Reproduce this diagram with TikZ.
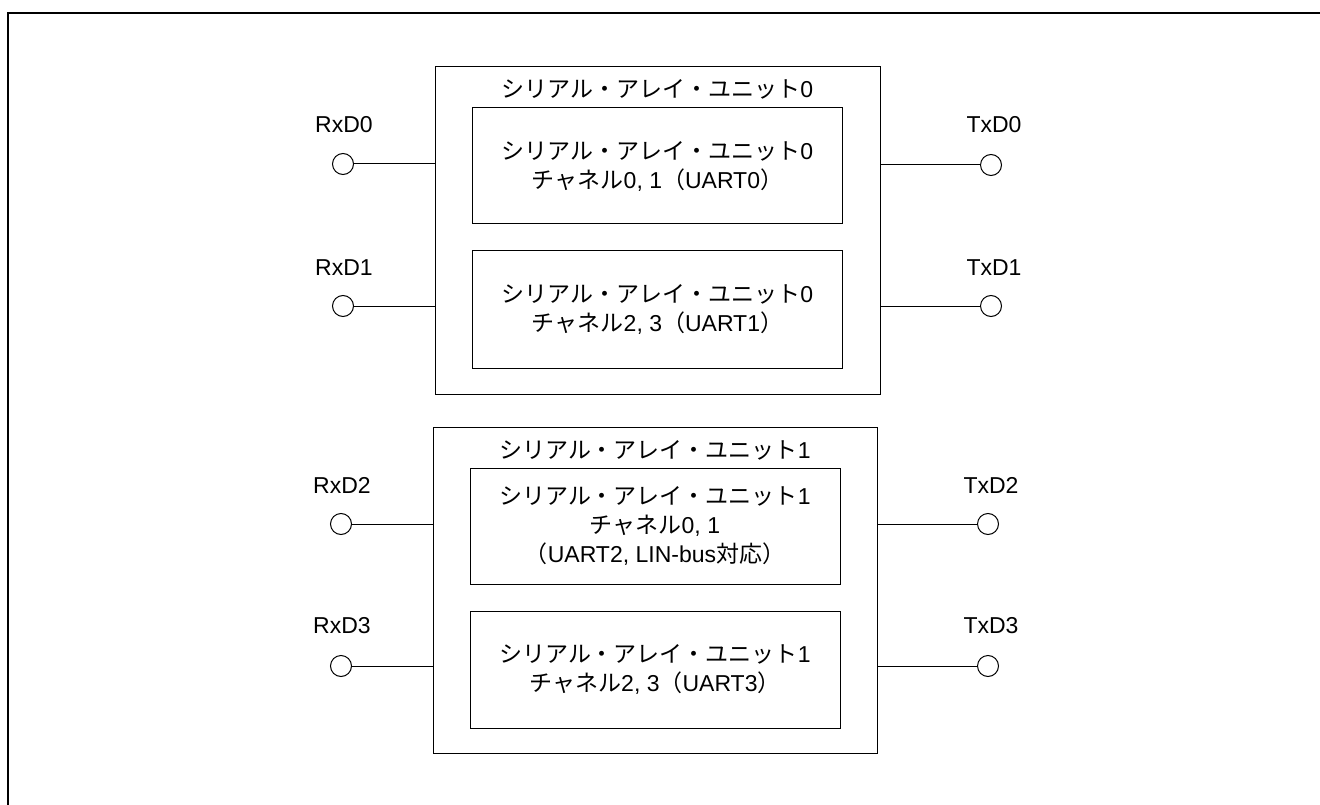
\documentclass[tikz,border=0pt]{standalone}
\usepackage{fontspec}
\setmainfont{Liberation Sans}
\newfontfamily\jpfont{Noto Sans CJK JP}
\newcommand{\JP}[1]{{\jpfont #1}}
\begin{document}
\begin{tikzpicture}[x=1pt,y=-1pt,
  every node/.style={font=\fontsize{23}{29}\selectfont, inner sep=0pt, outer sep=0pt},
  unitbox/.style={draw, line width=1pt, anchor=north west},
  chbox/.style={draw, line width=1pt, align=center, minimum width=370pt},
  pin/.style={draw, circle, line width=1pt, minimum size=21pt, fill=white},
  wire/.style={line width=1pt},
  frame/.style={line width=1.6pt}
]
\useasboundingbox (0,0) rectangle (1320,805);
% outer frame (top and left edges)
\coordinate (fbl) at (8,806);
\coordinate (ftl) at (8,13);
\coordinate (ftr) at (1321,13);
\draw[frame] (fbl) -- (ftl) -- (ftr);

% unit 0
\node[unitbox, minimum width=445pt, minimum height=327pt] (u0) at (435,67) {};
\node (u0t) at (657.5,89) {\JP{シリアル・アレイ・ユニット}0};
\node[chbox, minimum height=116pt] (c0) at (657.5,166) {\JP{シリアル・アレイ・ユニット}0\\\JP{チャネル}0, 1\JP{（}UART0\JP{）}};
\node[chbox, minimum height=117pt] (c1) at (657.5,309.5) {\JP{シリアル・アレイ・ユニット}0\\\JP{チャネル}2, 3\JP{（}UART1\JP{）}};

% unit 1
\node[unitbox, minimum width=444pt, minimum height=326pt] (u1) at (433,427) {};
\node (u1t) at (655,450) {\JP{シリアル・アレイ・ユニット}1};
\node[chbox, minimum height=116pt] (c2) at (655,526) {\JP{シリアル・アレイ・ユニット}1\\\JP{チャネル}0, 1\\\JP{（}UART2, LIN-bus\JP{対応）}};
\node[chbox, minimum height=117pt] (c3) at (655,669.5) {\JP{シリアル・アレイ・ユニット}1\\\JP{チャネル}2, 3\JP{（}UART3\JP{）}};

% pins left
\node[pin] (r0) at (343,164) {};
\node[pin] (r1) at (343,306) {};
\node[pin] (r2) at (341,524) {};
\node[pin] (r3) at (341,666) {};
% pins right
\node[pin] (t0) at (991,165) {};
\node[pin] (t1) at (991,306) {};
\node[pin] (t2) at (988,524) {};
\node[pin] (t3) at (988,666) {};

% labels
\node (lr0) at (344,125) {RxD0};
\node (lr1) at (344,268) {RxD1};
\node (lr2) at (342,485) {RxD2};
\node (lr3) at (342,626) {RxD3};
\node (lt0) at (994,125) {TxD0};
\node (lt1) at (994,268) {TxD1};
\node (lt2) at (991,485) {TxD2};
\node (lt3) at (991,626) {TxD3};

% wires
\draw[wire] (r0.east) -- (r0.east -| u0.west);
\draw[wire] (r1.east) -- (r1.east -| u0.west);
\draw[wire] (r2.east) -- (r2.east -| u1.west);
\draw[wire] (r3.east) -- (r3.east -| u1.west);
\draw[wire] (t0.west) -- (t0.west -| u0.east);
\draw[wire] (t1.west) -- (t1.west -| u0.east);
\draw[wire] (t2.west) -- (t2.west -| u1.east);
\draw[wire] (t3.west) -- (t3.west -| u1.east);
\end{tikzpicture}
\end{document}
